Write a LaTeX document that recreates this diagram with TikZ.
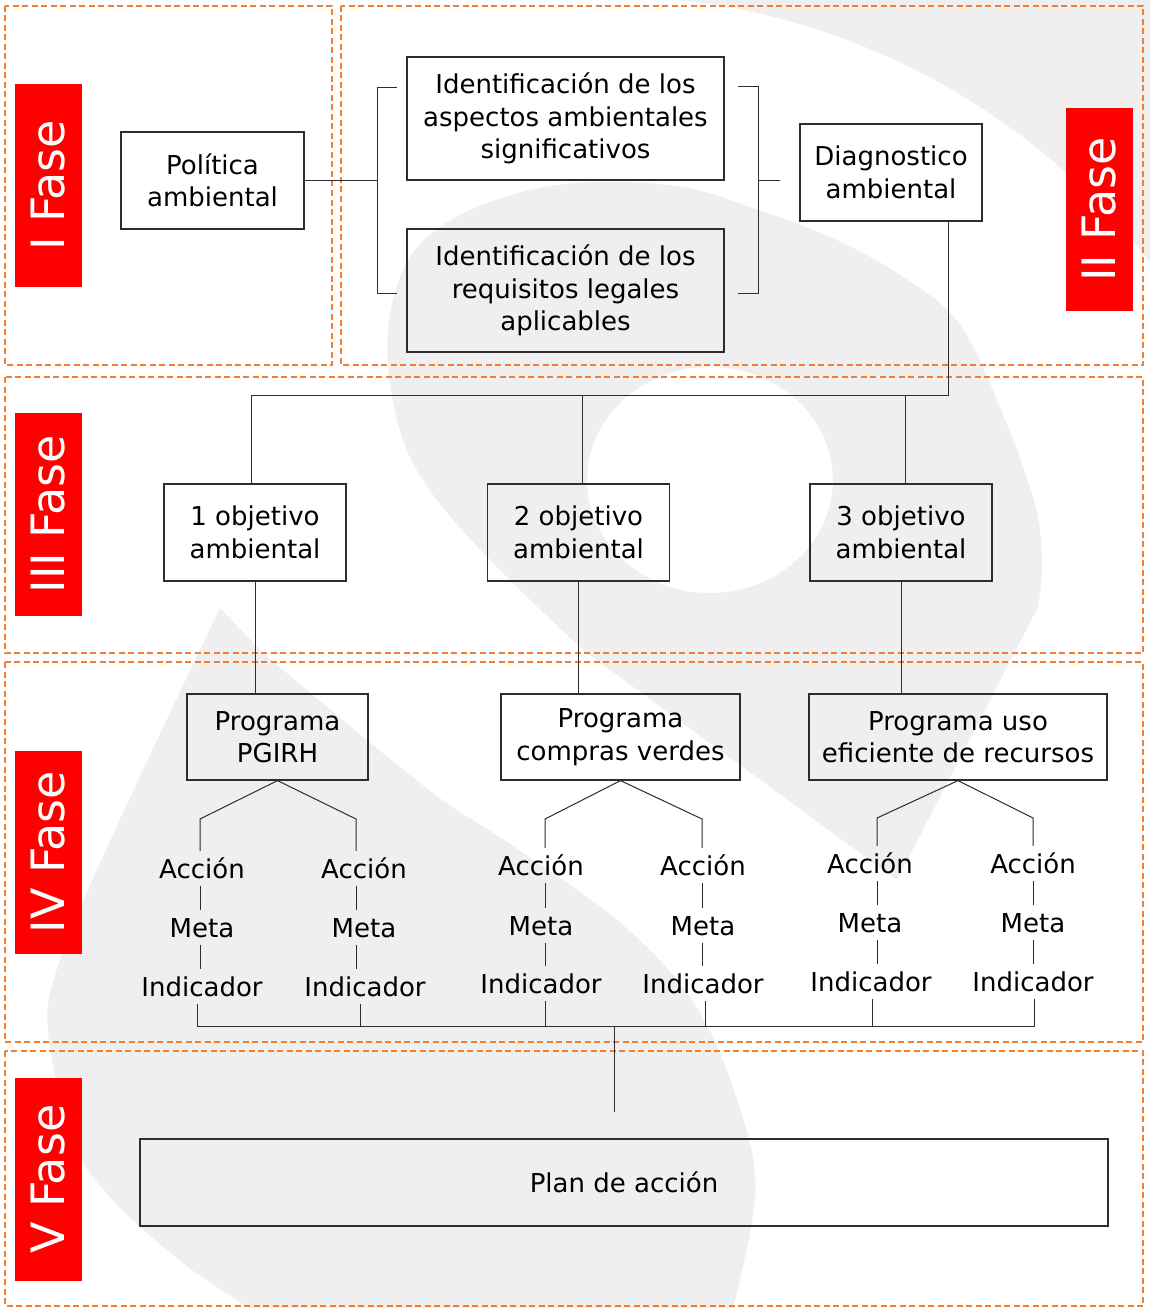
\documentclass[tikz,border=0pt]{standalone}
\usepackage{fontspec}
\setmainfont{DejaVu Sans}
\definecolor{wmgrey}{RGB}{239,239,239}
\definecolor{frameor}{RGB}{242,128,48}
\definecolor{lnc}{RGB}{45,45,45}
\begin{document}
\begin{tikzpicture}[x=1pt,y=-1pt,
  wm/.style={fill=wmgrey},
  phaseframe/.style={draw=frameor,line width=1.4pt,dash pattern=on 6pt off 3.5pt},
  fasebox/.style={fill=red,text=white,rotate=90,minimum width=203pt,minimum height=67pt,inner sep=0pt,font=\fontsize{46}{50}\selectfont},
  box/.style={draw=lnc,line width=1.2pt,align=center,inner sep=0pt,font=\fontsize{26}{32.5}\selectfont},
  conn/.style={draw=lnc,line width=1pt},
  lbl/.style={font=\fontsize{26}{32}\selectfont,text height=19pt,text depth=0pt,inner xsep=0pt,inner ysep=8pt,anchor=base}
]
\useasboundingbox (0,0) rectangle (1150,1308);
\fill[white] (0,0) rectangle (1150,1308);

% ---- watermark ----
\fill[wm] (680,0) .. controls (860,20) and (1030,110) .. (1150,262) -- (1150,0) -- cycle;
\fill[wm,even odd rule] (897,880) -- plot[smooth,tension=0.6] coordinates {(583,650) (500,570) (437,500) (403,440) (388,363) (393,300) (415,250) (460,215) (530,190) (600,182) (683,187) (750,207) (830,237) (900,275) (960,325) (1005,420) (1035,505) (1042,563) (1038,607)} -- cycle
  (710,480) ellipse [x radius=123,y radius=113];
\fill[wm] (220,608) -- plot[smooth,tension=0.6] coordinates {(264,654) (425,787) (513,846) (623,925) (697,1008) (741,1112) (755,1196) (733,1308)} -- (249,1308) -- plot[smooth,tension=0.6] coordinates {(249,1308) (183,1263) (110,1197) (73,1140) (48,1030) (60,960) (110,841) (198,654)} -- cycle;

% ---- phase frames ----
\draw[phaseframe] (5,6) rectangle (332,365);
\draw[phaseframe] (341,6) rectangle (1143,365);
\draw[phaseframe] (5,377) rectangle (1143,653);
\draw[phaseframe] (5,662) rectangle (1143,1042);
\draw[phaseframe] (5,1051) rectangle (1143,1306);

% ---- phase labels ----
\node[fasebox] (f1) at (48.5,185.5) {I Fase};
\node[fasebox] (f2) at (1099.5,209.5) {II Fase};
\node[fasebox] (f3) at (48.5,514.5) {III Fase};
\node[fasebox] (f4) at (48.5,852) {IV Fase};
\node[fasebox] (f5) at (48.5,1179) {V Fase};

% ---- boxes ----
\node[box,minimum width=183pt,minimum height=97pt] (pol) at (212.5,180.5) {Política\\ambiental};
\node[box,minimum width=317pt,minimum height=123pt] (asp) at (565.5,118.5) {Identificación de los\\aspectos ambientales\\significativos};
\node[box,minimum width=317pt,minimum height=123pt] (req) at (565.5,290.5) {Identificación de los\\requisitos legales\\aplicables};
\node[box,minimum width=182pt,minimum height=97pt] (diag) at (891,172.5) {Diagnostico\\ambiental};
\node[box,minimum width=182pt,minimum height=97pt] (o1) at (255,532.5) {1 objetivo\\ambiental};
\node[box,minimum width=182pt,minimum height=97pt] (o2) at (578.5,532.5) {2 objetivo\\ambiental};
\node[box,minimum width=182pt,minimum height=97pt] (o3) at (901,532.5) {3 objetivo\\ambiental};
\node[box,minimum width=181pt,minimum height=86pt] (p1) at (277.5,737) {Programa\\PGIRH};
\node[box,minimum width=239pt,minimum height=86pt] (p2) at (620.5,737) {Programa\\compras verdes};
\node[box,minimum width=298pt,minimum height=86pt] (p3) at (958,737) {Programa uso\\eficiente de recursos};
\node[box,minimum width=968pt,minimum height=87pt] (plan) at (624,1182.5) {Plan de acción};

% ---- brackets ----
\coordinate (bLt) at (377,88); \coordinate (bLte) at (397,88);
\coordinate (bL) at (377,181);
\coordinate (bLb) at (377,293); \coordinate (bLbe) at (397,293);
\draw[conn] (pol.east) -- (pol.east -| bL);
\draw[conn] (bLte) -- (bLt) -- (bLb) -- (bLbe);
\coordinate (bRts) at (738,87); \coordinate (bRt) at (758,87);
\coordinate (bRb) at (758,293); \coordinate (bRbs) at (738,293);
\coordinate (bR) at (758,181); \coordinate (bRe) at (780,181);
\draw[conn] (bRts) -- (bRt) -- (bRb) -- (bRbs);
\draw[conn] (bR) -- (bRe);

% ---- diagnostic to objectives ----
\coordinate (busR) at (948,395);
\coordinate (busL) at (251,395);
\coordinate (bus2) at (582,395);
\coordinate (bus3) at (905,395);
\draw[conn] (busR |- diag.south) -- (busR) -- (busL);
\draw[conn] (busL) -- (busL |- o1.north);
\draw[conn] (bus2) -- (bus2 |- o2.north);
\draw[conn] (bus3) -- (bus3 |- o3.north);

% ---- objectives to programmes ----
\draw[conn] (o1.south) -- (o1.south |- p1.north);
\draw[conn] (o2.south) -- (o2.south |- p2.north);
\draw[conn] (o3.south) -- (o3.south |- p3.north);

% ---- labels ----
\node[lbl] (a11) at (202,878) {Acción};
\node[lbl] (m11) at (202,937) {Meta};
\node[lbl] (i11) at (202,996) {Indicador};
\node[lbl] (a12) at (364,878) {Acción};
\node[lbl] (m12) at (364,937) {Meta};
\node[lbl] (i12) at (365,996) {Indicador};
\node[lbl] (a21) at (541,875) {Acción};
\node[lbl] (m21) at (541,935) {Meta};
\node[lbl] (i21) at (541,993) {Indicador};
\node[lbl] (a22) at (703,875) {Acción};
\node[lbl] (m22) at (703,935) {Meta};
\node[lbl] (i22) at (703,993) {Indicador};
\node[lbl] (a31) at (870,873) {Acción};
\node[lbl] (m31) at (870,932) {Meta};
\node[lbl] (i31) at (871,991) {Indicador};
\node[lbl] (a32) at (1033,873) {Acción};
\node[lbl] (m32) at (1033,932) {Meta};
\node[lbl] (i32) at (1033,991) {Indicador};

% ---- branches ----
\coordinate (k11) at (200,819); \coordinate (k12) at (356,819);
\coordinate (k21) at (545,819); \coordinate (k22) at (702,819);
\coordinate (k31) at (877,818); \coordinate (k32) at (1033,818);
\draw[conn] (k11 |- a11.north) -- (k11) -- (p1.south) -- (k12) -- (k12 |- a12.north);
\draw[conn] (k21 |- a21.north) -- (k21) -- (p2.south) -- (k22) -- (k22 |- a22.north);
\draw[conn] (k31 |- a31.north) -- (k31) -- (p3.south) -- (k32) -- (k32 |- a32.north);

\draw[conn] (a11.south -| k11) -- (m11.north -| k11);
\draw[conn] (m11.south -| k11) -- (i11.north -| k11);
\draw[conn] (a12.south -| k12) -- (m12.north -| k12);
\draw[conn] (m12.south -| k12) -- (i12.north -| k12);
\draw[conn] (a21.south -| k21) -- (m21.north -| k21);
\draw[conn] (m21.south -| k21) -- (i21.north -| k21);
\draw[conn] (a22.south -| k22) -- (m22.north -| k22);
\draw[conn] (m22.south -| k22) -- (i22.north -| k22);
\draw[conn] (a31.south -| k31) -- (m31.north -| k31);
\draw[conn] (m31.south -| k31) -- (i31.north -| k31);
\draw[conn] (a32.south -| k32) -- (m32.north -| k32);
\draw[conn] (m32.south -| k32) -- (i32.north -| k32);

% ---- bottom bus ----
\coordinate (t11) at (197,1026); \coordinate (t12) at (360,1026);
\coordinate (t21) at (545,1026); \coordinate (t22) at (705,1026);
\coordinate (t31) at (872,1026); \coordinate (t32) at (1034,1026);
\draw[conn] (t11 |- i11.south) -- (t11) -- (t32) -- (t32 |- i32.south);
\draw[conn] (t12) -- (t12 |- i12.south);
\draw[conn] (t21) -- (t21 |- i21.south);
\draw[conn] (t22) -- (t22 |- i22.south);
\draw[conn] (t31) -- (t31 |- i31.south);
\coordinate (bc) at (614,1026); \coordinate (bce) at (614,1112);
\draw[conn] (bc) -- (bce);
\end{tikzpicture}
\end{document}
